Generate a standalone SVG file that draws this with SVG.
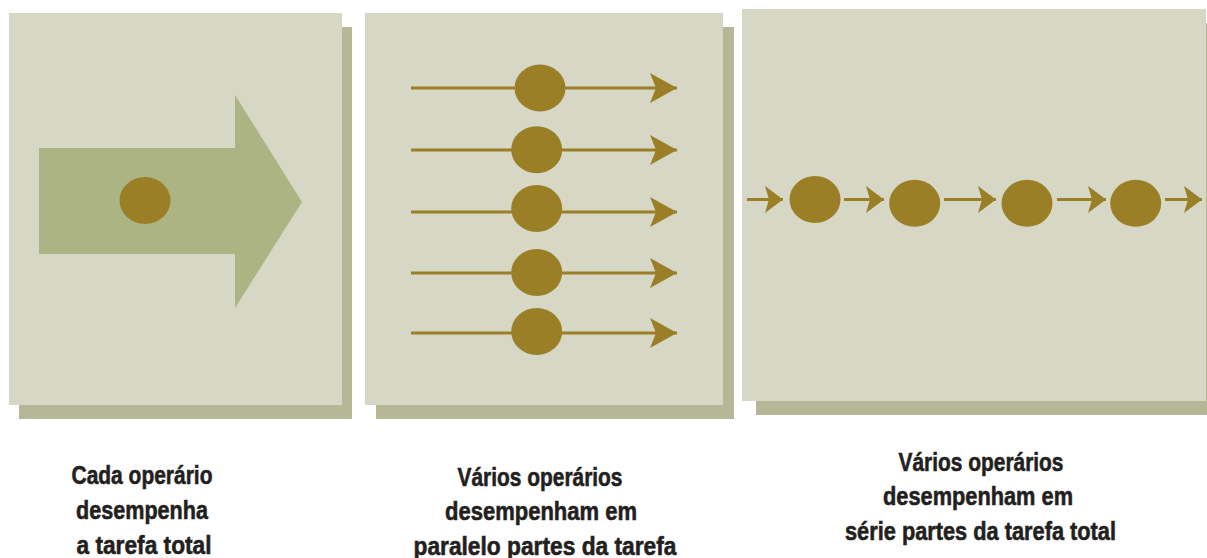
<svg xmlns="http://www.w3.org/2000/svg" width="1207" height="558" viewBox="0 0 1207 558">
<style>
.panel{fill:#d6d7c4}
.shadow{fill:#b5b797}
.dot{fill:#9b7f27}
.big{fill:#acb483}
.link{stroke:#9b7f27;stroke-width:3;fill:none}
.lbl{font-family:"Liberation Sans",Arial,sans-serif;font-weight:bold;font-size:26.5px;fill:#231f20;stroke:#231f20;stroke-width:0.6;text-anchor:middle}
</style>
<defs>
<marker id="headA" markerUnits="userSpaceOnUse" viewBox="0 0 27 30" refX="27" refY="15" markerWidth="27" markerHeight="30" orient="auto">
<path d="M0,0 L27,15 L0,30 L6,15 Z" fill="#9b7f27"/>
</marker>
<marker id="headB" markerUnits="userSpaceOnUse" viewBox="0 0 18 27" refX="18" refY="13.5" markerWidth="18" markerHeight="27" orient="auto">
<path d="M0,0 L18,13.5 L0,27 L4,13.5 Z" fill="#9b7f27"/>
</marker>
</defs>
<g id="panel1">
<rect class="shadow" x="19" y="27" width="333" height="392"/>
<rect class="panel" x="9" y="13" width="333" height="392"/>
<polygon class="big" points="39,148 235,148 235,95 302,202 235,308 235,254 39,254"/>
<ellipse class="dot" cx="145" cy="200.5" rx="25.5" ry="23.5"/>
</g>
<g id="panel2">
<rect class="shadow" x="376" y="27" width="358" height="392"/>
<rect class="panel" x="365" y="13" width="358" height="392"/>
</g>
<g id="panel3">
<rect class="shadow" x="756" y="23" width="464" height="392"/>
<rect class="panel" x="742" y="9" width="464" height="392"/>
</g>
<g id="connectors">
<line class="link" x1="411" y1="88" x2="677" y2="88" marker-end="url(#headA)"/>
<line class="link" x1="411" y1="150" x2="677" y2="150" marker-end="url(#headA)"/>
<line class="link" x1="411" y1="212" x2="677" y2="212" marker-end="url(#headA)"/>
<line class="link" x1="411" y1="273" x2="677" y2="273" marker-end="url(#headA)"/>
<line class="link" x1="411" y1="333" x2="677" y2="333" marker-end="url(#headA)"/>
<line class="link" x1="747" y1="199.5" x2="783" y2="199.5" marker-end="url(#headB)"/>
<line class="link" x1="844" y1="199.5" x2="884" y2="199.5" marker-end="url(#headB)"/>
<line class="link" x1="944" y1="199.5" x2="996" y2="199.5" marker-end="url(#headB)"/>
<line class="link" x1="1057" y1="199.5" x2="1106" y2="199.5" marker-end="url(#headB)"/>
<line class="link" x1="1165" y1="199.5" x2="1202" y2="199.5" marker-end="url(#headB)"/>
</g>
<g id="p-worker1"><ellipse class="dot" cx="540" cy="88" rx="25.5" ry="23.5"/></g>
<g id="p-worker2"><ellipse class="dot" cx="536.7" cy="149.7" rx="25.5" ry="23.5"/></g>
<g id="p-worker3"><ellipse class="dot" cx="536.7" cy="208.5" rx="25.5" ry="23.5"/></g>
<g id="p-worker4"><ellipse class="dot" cx="536.7" cy="272.5" rx="25.5" ry="23.5"/></g>
<g id="p-worker5"><ellipse class="dot" cx="536.7" cy="331.5" rx="25.5" ry="23.5"/></g>
<g id="s-worker1"><ellipse class="dot" cx="815" cy="199.5" rx="25.5" ry="23.5"/></g>
<g id="s-worker2"><ellipse class="dot" cx="914.7" cy="203.3" rx="25.5" ry="23.5"/></g>
<g id="s-worker3"><ellipse class="dot" cx="1027" cy="203.3" rx="25.5" ry="23.5"/></g>
<g id="s-worker4"><ellipse class="dot" cx="1135.7" cy="203.3" rx="25.5" ry="23.5"/></g>
<g id="label1">
<text class="lbl" x="142" y="484" textLength="141" lengthAdjust="spacingAndGlyphs">Cada operário</text>
<text class="lbl" x="142" y="519" textLength="132" lengthAdjust="spacingAndGlyphs">desempenha</text>
<text class="lbl" x="144" y="554" textLength="135" lengthAdjust="spacingAndGlyphs">a tarefa total</text>
</g>
<g id="label2">
<text class="lbl" x="540" y="486" textLength="165" lengthAdjust="spacingAndGlyphs">Vários operários</text>
<text class="lbl" x="541" y="520" textLength="192" lengthAdjust="spacingAndGlyphs">desempenham em</text>
<text class="lbl" x="545" y="555" textLength="263" lengthAdjust="spacingAndGlyphs">paralelo partes da tarefa</text>
</g>
<g id="label3">
<text class="lbl" x="981" y="471" textLength="165" lengthAdjust="spacingAndGlyphs">Vários operários</text>
<text class="lbl" x="978" y="505" textLength="190" lengthAdjust="spacingAndGlyphs">desempenham em</text>
<text class="lbl" x="980.5" y="539.5" textLength="271" lengthAdjust="spacingAndGlyphs">série partes da tarefa total</text>
</g>
</svg>
